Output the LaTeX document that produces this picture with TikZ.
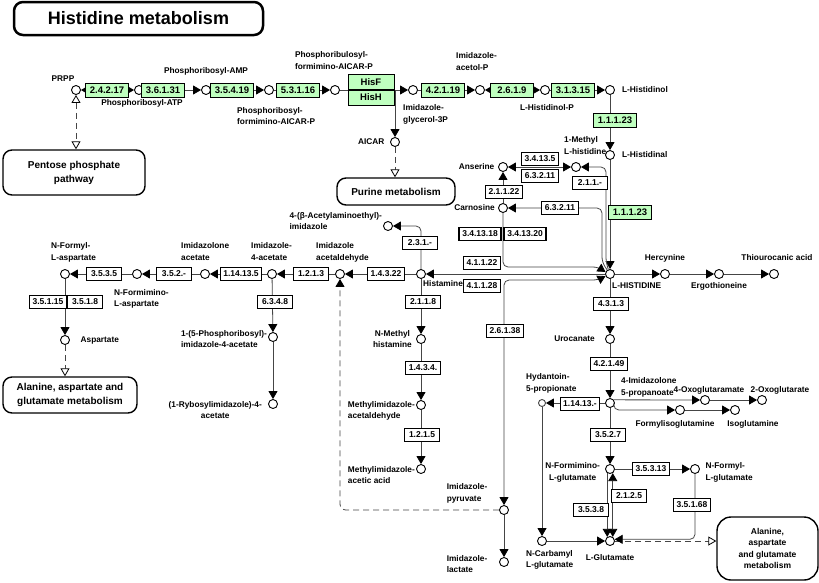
\documentclass[tikz,border=0pt]{standalone}
\usepackage{fontspec}
\setmainfont{Liberation Sans}
\usetikzlibrary{arrows.meta}
\definecolor{kgreen}{HTML}{BFFFBF}
\definecolor{kline}{HTML}{454545}
\newcommand{\cpdfont}{\fontsize{8.3}{11.5}\selectfont\bfseries}
\newcommand{\enzfont}{\fontsize{8.5}{10}\selectfont\bfseries}
\newcommand{\genzfont}{\fontsize{9.5}{10}\selectfont\bfseries}
\newcommand{\mapfont}{\fontsize{10}{14}\selectfont\bfseries}
\newcommand{\smallmapfont}{\fontsize{8.5}{11.5}\selectfont\bfseries}
\newcommand{\titlefont}{\fontsize{18}{20}\selectfont\bfseries}

\begin{document}
\begin{tikzpicture}
        [x=1pt,y=-1pt,
         cpd/.style={draw,shape=circle,fill=white,inner sep=0,minimum size=9pt,line width=0.9pt},
         enz/.style={draw,fill=white,font=\enzfont,inner xsep=3pt,inner ysep=1pt,minimum width=35pt,minimum height=13pt,line width=1pt},
         genz/.style={enz,fill=kgreen,font=\genzfont,minimum width=43pt,minimum height=14pt},
         benz/.style={enz,line width=1.6pt},
         mapbox/.style={draw,fill=white,rounded corners=9pt,line width=1.4pt,font=\mapfont,align=center},
         rxn/.style={draw=kline,line width=0.8pt,rounded corners=5pt},
         maplink/.style={draw=kline,line width=0.8pt,dash pattern=on 6pt off 4pt,rounded corners=6pt},
         every label/.style={font=\cpdfont,inner sep=1pt},
         >={Triangle[length=8pt,width=9pt,color=black]},
         optri/.tip={Triangle[length=8pt,width=9pt,color=black,fill=white]}]

        \useasboundingbox (0,0) rectangle (819,582);

        \node[mapbox,line width=2.5pt,font=\titlefont,minimum width=249pt,minimum height=33pt] (title) at (138.5,18.5) {Histidine metabolism};
        \node[mapbox,minimum width=142pt,minimum height=45pt] (pentose) at (74,172.5) {Pentose phosphate\\pathway};
        \node[mapbox,minimum width=118pt,minimum height=27pt] (purine) at (396,191.5) {Purine metabolism};
        \node[mapbox,minimum width=134pt,minimum height=36pt] (alaL) at (70,395) {Alanine, aspartate and\\glutamate metabolism};
        \node[mapbox,rounded corners=14pt,font=\smallmapfont,minimum width=101pt,minimum height=63pt] (alaR) at (767.5,548.5) {Alanine,\\aspartate\\and glutamate\\metabolism};

        \node[cpd,label={[xshift=3pt,yshift=4pt]135:PRPP}] (prpp) at (76,90) {};
        \node[cpd,label={[xshift=3pt,yshift=-3pt]below:Phosphoribosyl-ATP}] (pratp) at (139,90) {};
        \node[cpd,label={[yshift=9pt]above:Phosphoribosyl-AMP}] (pramp) at (206,90) {};
        \node[cpd,label={[anchor=north west,align=left,xshift=-33pt,yshift=-11pt]below:Phosphoribosyl-\\formimino-AICAR-P}] (prfar) at (269,90) {};
        \node[cpd,label={[align=left,xshift=-1pt,yshift=14.5pt]above:Phosphoribulosyl-\\formimino-AICAR-P}] (prfarb) at (335,90) {};
        \node[cpd,label={[anchor=north west,align=left,xshift=-11pt,yshift=-8.5pt]below:Imidazole-\\glycerol-3P}] (igp) at (413,90) {};
        \node[cpd,label={[anchor=south west,align=left,xshift=-25pt,yshift=13.5pt]above:Imidazole-\\acetol-P}] (iap) at (480,90) {};
        \node[cpd,label={[xshift=2pt,yshift=-8.5pt]below:L-Histidinol-P}] (hisolp) at (545,90) {};
        \node[cpd,label={[label distance=6pt]right:L-Histidinol}] (hisol) at (610,90) {};
        \node[cpd,label={[label distance=6pt]right:L-Histidinal}] (hisal) at (610,155) {};
        \node[cpd,label={[label distance=4.5pt]left:AICAR}] (aicar) at (395,142) {};

        \node[cpd,label={[label distance=2.5pt]left:Anserine}] (anser) at (503,167) {};
        \node[cpd,label={[anchor=south west,align=left,xshift=-13pt,yshift=6.5pt]above:1-Methyl\\L-histidine}] (mhis) at (576,167) {};
        \node[cpd,label={[label distance=2pt]left:Carnosine}] (carn) at (503,208) {};
        \node[cpd,label={[align=left,anchor=east,yshift=5pt]left:4-(β-Acetylaminoethyl)-\\imidazole}] (acim) at (388,226) {};

        \node[cpd,label={[anchor=north west,xshift=1pt]below:Histamine}] (hist) at (421,274) {};
        \node[cpd,label={[anchor=north west,xshift=1pt,yshift=-2.5pt]below:L-HISTIDINE}] (lhis) at (610,274) {};
        \node[cpd,label={[yshift=6pt]above:Hercynine}] (herc) at (665,274) {};
        \node[cpd,label={[yshift=-2.5pt]below:Ergothioneine}] (ergo) at (719,274) {};
        \node[cpd,label={[xshift=3pt,yshift=7.5pt]above:Thiourocanic acid}] (thiou) at (774,274) {};
        \node[cpd,label={[anchor=south west,align=left,xshift=-25pt,yshift=6pt]above:Imidazole\\acetaldehyde}] (imald) at (340,274) {};
        \node[cpd,label={[anchor=south west,align=left,xshift=-22pt,yshift=7.5pt]above:Imidazole-\\4-acetate}] (im4ac) at (272,274) {};
        \node[cpd,label={[anchor=south west,align=left,xshift=-25pt,yshift=7.5pt]above:Imidazolone\\acetate}] (imonac) at (205,274) {};
        \node[cpd,label={[anchor=north west,align=left,xshift=-24pt,yshift=-9pt]below:N-Formimino-\\L-aspartate}] (nfimasp) at (137,274) {};
        \node[cpd,label={[anchor=south west,align=left,xshift=-15pt,yshift=6pt]above:N-Formyl-\\L-aspartate}] (nfasp) at (65,274) {};

        \node[cpd,label={[label distance=9.5pt]right:Aspartate}] (asp) at (65,340) {};
        \node[cpd,label={[align=left,anchor=east,yshift=-2pt]left:1-(5-Phosphoribosyl)-\\imidazole-4-acetate}] (prima) at (273,337) {};
        \node[cpd,label={[align=center,anchor=east,yshift=-6pt,label distance=5pt]left:(1-Rybosylimidazole)-4-\\acetate}] (rima) at (273,404) {};
        \node[cpd,label={[align=center,anchor=east,label distance=3pt]left:N-Methyl\\histamine}] (nmhist) at (421,339) {};
        \node[cpd,label={[align=left,anchor=east,yshift=-6pt]left:Methylimidazole-\\acetaldehyde}] (mimald) at (421,405) {};
        \node[cpd,label={[align=left,anchor=east,yshift=-6pt]left:Methylimidazole-\\acetic acid}] (mimac) at (421,469) {};
        \node[cpd,label={[align=left,anchor=east,yshift=16.5pt,label distance=10.5pt]left:Imidazole-\\pyruvate}] (impyr) at (504,510) {};
        \node[cpd,label={[align=left,anchor=east,yshift=-2pt,label distance=10.5pt]left:Imidazole-\\lactate}] (imlac) at (504,562) {};

        \node[cpd,label={[label distance=9pt]left:Urocanate}] (uroc) at (610,339) {};
        \node[cpd,label={[align=left,anchor=west,yshift=15.5pt,label distance=5pt]right:4-Imidazolone\\5-propanoate}] (improp) at (610,403) {};
        \node[cpd,minimum size=7pt,draw=kline,label={[anchor=south west,align=left,xshift=-17pt,yshift=5pt]above:Hydantoin-\\5-propionate}] (hydp) at (542,403) {};
        \node[cpd,label={[xshift=4pt]above:4-Oxoglutaramate}] (oxgm) at (705,400) {};
        \node[cpd,label={[xshift=18pt]above:2-Oxoglutarate}] (oxg) at (762,400) {};
        \node[cpd,label={[xshift=-5pt,yshift=-4.5pt]below:Formylisoglutamine}] (figln) at (680,410) {};
        \node[cpd,label={[xshift=18pt,yshift=-4.5pt]below:Isoglutamine}] (igln) at (735,410) {};
        \node[cpd,label={[align=center,anchor=east,yshift=-3.5pt,label distance=4pt]left:N-Formimino-\\L-glutamate}] (nfimglu) at (610,469) {};
        \node[cpd,label={[align=left,anchor=west,yshift=-3.5pt,label distance=4.5pt]right:N-Formyl-\\L-glutamate}] (nfglu) at (695,469) {};
        \node[cpd,label={[yshift=-7.5pt]below:L-Glutamate}] (lglu) at (610,541) {};
        \node[cpd,label={[anchor=north west,align=left,xshift=-17pt,yshift=-3pt]below:N-Carbamyl\\L-glutamate}] (ncglu) at (542,541) {};

        \coordinate (hisfork) at (395,90);

        \draw[rxn,<->] (prpp) -- (pratp);
        \draw[rxn,->] (pratp) -- (pramp);
        \draw[rxn,->] (pramp) -- (prfar);
        \draw[rxn,->] (prfar) -- (prfarb);
        \draw[rxn,->] (prfarb) -- (igp);
        \draw[rxn,->] (hisfork) -- (aicar);
        \draw[rxn,->] (igp) -- (iap);
        \draw[rxn,<->] (iap) -- (hisolp);
        \draw[rxn,->] (hisolp) -- (hisol);
        \draw[rxn,->] (hisol) -- (hisal);
        \draw[rxn,->] (hisal) -- (lhis);

        \draw[maplink,{optri}-{optri}] (prpp) -- (prpp |- pentose.north);
        \draw[maplink,-{optri}] (aicar) -- (aicar |- purine.north);
        \draw[maplink,-{optri}] (asp) -- (asp |- alaL.north);
        \draw[maplink,-{optri}] (lglu) -- (lglu -| alaR.west);
        \draw[maplink,->] (impyr) -| (imald);

        \draw[rxn,->] (lhis) -- (herc);
        \draw[rxn,->] (herc) -- (ergo);
        \draw[rxn,->] (ergo) -- (thiou);
        \draw[rxn,->] (lhis) -- (uroc);
        \draw[rxn,->] (uroc) -- (improp);
        \draw[rxn,->] (improp) -- (hydp);
        \draw[rxn,->] (improp.40) -- (oxgm);
        \draw[rxn,->] (oxgm) -- (oxg);
        \draw[rxn,->] (improp.-40) |- (figln);
        \draw[rxn,->] (figln) -- (igln);
        \draw[rxn,->] (improp) -- (nfimglu);
        \draw[rxn,->] (nfimglu) -- (nfglu);
        \draw[rxn,->] (nfglu) |- (lglu.20);
        \draw[rxn,->] (nfimglu.-124) -- (lglu.124);
        \draw[rxn,<->] (nfimglu.-56) -- (lglu.56);
        \draw[rxn,->] (hydp) -- (ncglu);
        \draw[rxn,->] (ncglu) -- (lglu);

        \draw[rxn,->] (lhis) -- (hist);
        \draw[rxn,->] (hist) -- (imald);
        \draw[rxn,->] (imald) -- (im4ac);
        \draw[rxn,->] (im4ac) -- (imonac);
        \draw[rxn,->] (imonac) -- (nfimasp);
        \draw[rxn,->] (nfimasp) -- (nfasp);
        \draw[rxn,->] (nfasp) -- (asp);
        \draw[rxn,->] (im4ac) -- (prima);
        \draw[rxn,->] (prima) -- (rima);
        \draw[rxn,->] (hist) |- (acim);
        \draw[rxn,->] (hist) -- (nmhist);
        \draw[rxn,->] (nmhist) -- (mimald);
        \draw[rxn,->] (mimald) -- (mimac);
        \draw[rxn,<->] (lhis.205) -- (598,280) -- (504,280) -- (impyr);
        \draw[rxn,->] (impyr) -- (imlac);
        \draw[rxn,->] (carn) -- (503,267) -- (598,267) -- (lhis.155);
        \draw[rxn,->] (lhis.125) -- (602,262) -- (602,208) -- (carn);
        \draw[rxn,->] (lhis.110) -- (606,262) -- (606,167) -- (mhis);
        \draw[rxn,->] (carn) -- (anser);
        \draw[rxn,<->] (anser) -- (mhis);

        \node[genz] (e24217) at (107,90) {2.4.2.17};
        \node[genz] (e36131) at (163,90) {3.6.1.31};
        \node[genz] (e35419) at (232,90) {3.5.4.19};
        \node[genz] (e53116) at (298,90) {5.3.1.16};
        \node[genz,minimum width=46pt,minimum height=15pt] (hisF) at (371,82) {HisF};
        \node[genz,minimum width=46pt,minimum height=15pt] (hisH) at (371,97.5) {HisH};
        \node[genz] (e42119) at (443,90) {4.2.1.19};
        \node[genz] (e2619) at (512,90) {2.6.1.9};
        \node[genz] (e31315) at (573,90) {3.1.3.15};
        \node[genz] (e11123a) at (615,120) {1.1.1.23};
        \node[genz] (e11123b) at (630,212) {1.1.1.23};

        \node[enz] (e34135) at (540,159) {3.4.13.5};
        \node[enz] (e63211a) at (540,176) {6.3.2.11};
        \node[enz] (e21122) at (504,192) {2.1.1.22};
        \node[enz] (e211x) at (590,183) {2.1.1.-};
        \node[enz] (e63211b) at (560,208) {6.3.2.11};
        \node[benz] (e341318) at (480,234) {3.4.13.18};
        \node[benz] (e341320) at (525,234) {3.4.13.20};
        \node[enz] (e41122) at (482,263) {4.1.1.22};
        \node[benz] (e41128) at (482,286) {4.1.1.28};
        \node[enz] (e231x) at (420,243) {2.3.1.-};
        \node[enz] (e14322) at (386,274) {1.4.3.22};
        \node[enz] (e1213) at (311,274) {1.2.1.3};
        \node[enz] (e114135) at (241,274) {1.14.13.5};
        \node[enz] (e352x) at (174,274) {3.5.2.-};
        \node[enz] (e3535) at (104,274) {3.5.3.5};
        \node[enz] (e35115) at (48,302) {3.5.1.15};
        \node[enz] (e3518) at (85,302) {3.5.1.8};
        \node[enz] (e6348) at (275,302) {6.3.4.8};
        \node[enz] (e2118) at (423,302) {2.1.1.8};
        \node[enz] (e1434) at (423,368) {1.4.3.4.};
        \node[enz] (e1215) at (422,435) {1.2.1.5};
        \node[benz] (e26138) at (505,331) {2.6.1.38};
        \node[enz] (e4313) at (611,304) {4.3.1.3};
        \node[enz] (e42149) at (609,364) {4.2.1.49};
        \node[enz] (e11413x) at (580,404) {1.14.13.-};
        \node[enz] (e3527) at (608,435) {3.5.2.7};
        \node[enz] (e35313) at (651,469) {3.5.3.13};
        \node[enz] (e35168) at (692,505) {3.5.1.68};
        \node[enz] (e2125) at (629,496) {2.1.2.5};
        \node[enz] (e3538) at (591,510) {3.5.3.8};
      \end{tikzpicture}
\end{document}
